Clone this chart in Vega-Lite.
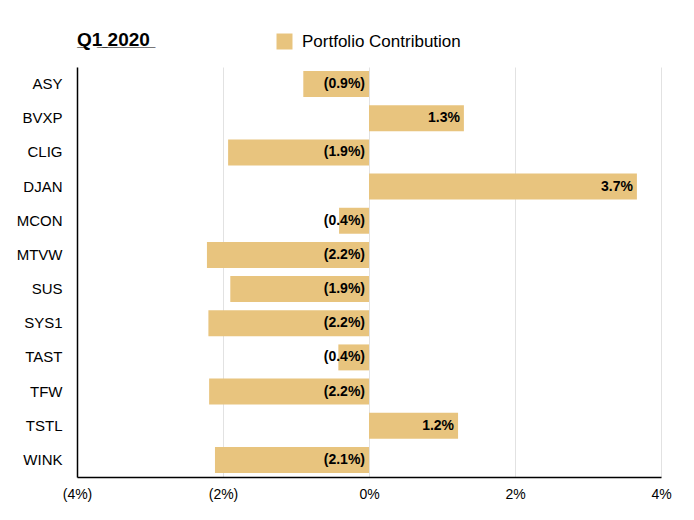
{
  "$schema": "https://vega.github.io/schema/vega-lite/v6.json",
  "autosize": {"type": "none"},
  "width": 584,
  "height": 410,
  "padding": {"left": 77, "top": 67, "right": 33, "bottom": 43},
  "background": "white",
  "title": {
    "text": "Q\u03321\u0332 \u03322\u03320\u03322\u03320\u0332",
    "anchor": "start",
    "frame": "group",
    "font": "Liberation Sans",
    "fontSize": 19,
    "fontWeight": "bold",
    "color": "black",
    "offset": -17
  },
  "data": {
    "values": [
      {"ticker": "ASY", "value": -0.9, "label": "(0.9%)"},
      {"ticker": "BVXP", "value": 1.3, "label": "1.3%"},
      {"ticker": "CLIG", "value": -1.93, "label": "(1.9%)"},
      {"ticker": "DJAN", "value": 3.67, "label": "3.7%"},
      {"ticker": "MCON", "value": -0.41, "label": "(0.4%)"},
      {"ticker": "MTVW", "value": -2.22, "label": "(2.2%)"},
      {"ticker": "SUS", "value": -1.9, "label": "(1.9%)"},
      {"ticker": "SYS1", "value": -2.2, "label": "(2.2%)"},
      {"ticker": "TAST", "value": -0.42, "label": "(0.4%)"},
      {"ticker": "TFW", "value": -2.19, "label": "(2.2%)"},
      {"ticker": "TSTL", "value": 1.22, "label": "1.2%"},
      {"ticker": "WINK", "value": -2.11, "label": "(2.1%)"}
    ]
  },
  "encoding": {
    "y": {
      "field": "ticker",
      "type": "nominal",
      "sort": null,
      "scale": {"paddingInner": 0.24, "paddingOuter": 0.12},
      "axis": {
        "title": null,
        "ticks": false,
        "labelPadding": 15,
        "labelFont": "Liberation Sans",
        "labelFontSize": 15,
        "labelColor": "black",
        "domainColor": "black",
        "domainWidth": 1.5
      }
    }
  },
  "layer": [
    {
      "mark": {"type": "bar", "color": "#E8C47E"},
      "encoding": {
        "x": {
          "field": "value",
          "type": "quantitative",
          "scale": {"domain": [-4, 4], "nice": false},
          "axis": {
            "title": null,
            "values": [-4, -2, 0, 2, 4],
            "labelExpr": "datum.value < 0 ? '(' + (-datum.value) + '%)' : datum.value + '%'",
            "labelFlush": false,
            "labelOverlap": false,
            "ticks": false,
            "labelPadding": 10,
            "labelFont": "Liberation Sans",
            "labelFontSize": 14,
            "labelColor": "black",
            "domainColor": "black",
            "domainWidth": 1.5,
            "grid": true,
            "gridColor": "#e2e2e2",
            "gridWidth": 1
          }
        },
        "color": {
          "datum": "Portfolio Contribution",
          "scale": {"range": ["#E8C47E"]},
          "legend": {
            "title": null,
            "orient": "none",
            "legendX": 199,
            "legendY": -34,
            "symbolType": "square",
            "symbolSize": 256,
            "symbolStrokeWidth": 0,
            "symbolOpacity": 1,
            "labelFont": "Liberation Sans",
            "labelFontSize": 17,
            "labelColor": "black",
            "labelOffset": 9
          }
        }
      }
    },
    {
      "transform": [{"filter": "datum.value >= 0"}],
      "mark": {"type": "text", "align": "right", "dx": -4, "font": "Liberation Sans", "fontSize": 14, "fontWeight": "bold", "color": "black"},
      "encoding": {
        "x": {"field": "value", "type": "quantitative"},
        "text": {"field": "label"}
      }
    },
    {
      "transform": [{"filter": "datum.value < 0"}],
      "mark": {"type": "text", "align": "right", "dx": -4, "font": "Liberation Sans", "fontSize": 14, "fontWeight": "bold", "color": "black"},
      "encoding": {
        "x": {"datum": 0, "type": "quantitative"},
        "text": {"field": "label"}
      }
    }
  ],
  "config": {"view": {"stroke": null}}
}
